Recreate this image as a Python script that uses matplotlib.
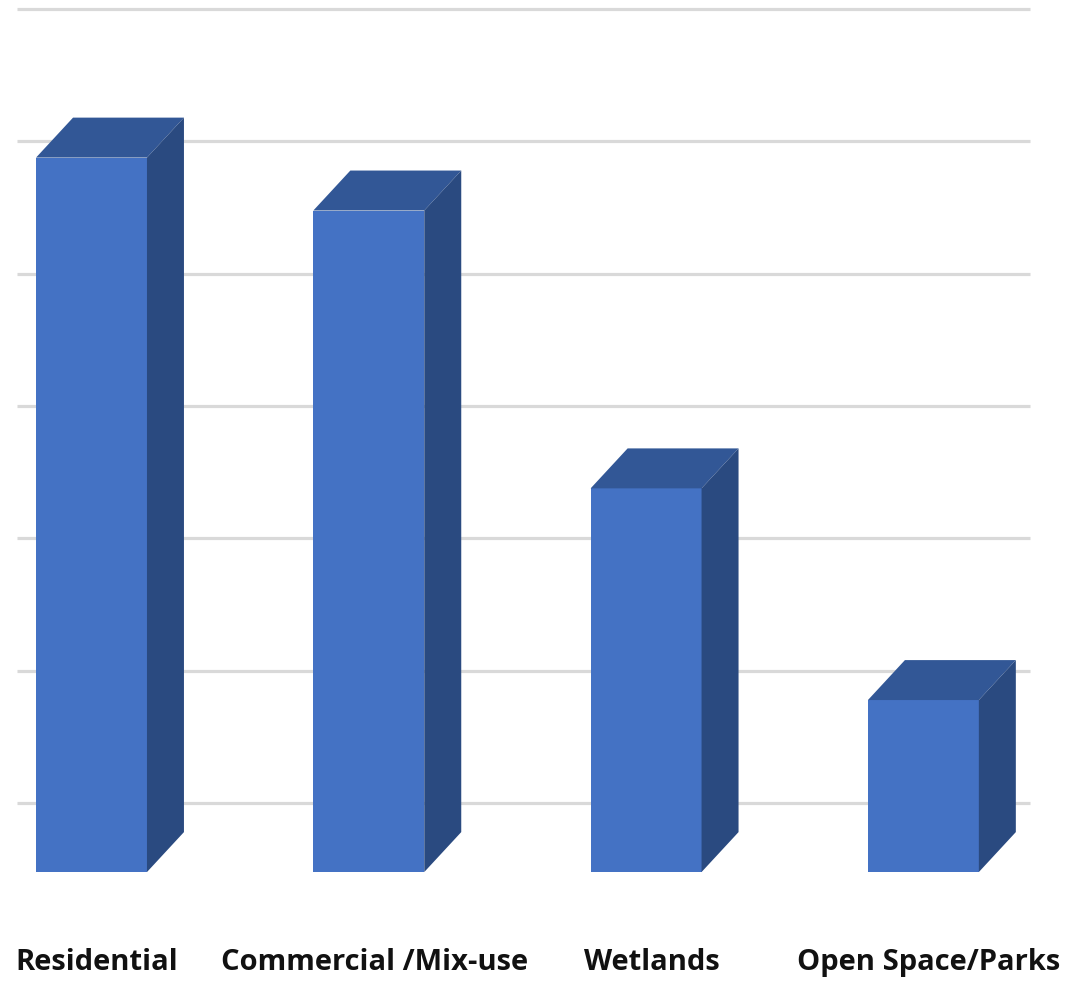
import matplotlib
matplotlib.use("Agg")
import matplotlib.pyplot as plt
from matplotlib.patches import Polygon

# Land-use shares (percent)
categories = ["Residential", "Commercial /Mix-use", "Wetlands", "Open Space/Parks"]
values = [54, 50, 29, 13]
grid_values = [0, 10, 20, 30, 40, 50, 60]

FRONT = "#4472C4"
TOP = "#325796"
SIDE = "#2A4A80"
GRID = "#D9D9D9"

fig = plt.figure(figsize=(10.82, 9.82), dpi=100)
ax = fig.add_axes([0, 0, 1, 1])
ax.set_xlim(-0.330, 3.572)
ax.set_ylim(-8.31, 65.91)
ax.axis("off")

bar_w = 0.40          # front face width (category units)
depth_dx = 0.1334     # oblique depth offset, x
depth_dy = 3.02       # oblique depth offset, y
wall_dy = 5.22        # back wall offset for gridlines
wall_x0, wall_x1 = -0.269, 3.384

# gridlines on the back wall
ax.hlines([g + wall_dy for g in grid_values], wall_x0, wall_x1,
          colors=GRID, linewidth=2.3, zorder=1)

xs = list(range(len(categories)))
ax.bar(xs, values, width=bar_w, color=FRONT, zorder=3, linewidth=0)

for x, v in zip(xs, values):
    x0, x1 = x - bar_w / 2, x + bar_w / 2
    top = [(x0, v), (x1, v), (x1 + depth_dx, v + depth_dy), (x0 + depth_dx, v + depth_dy)]
    side = [(x1, 0), (x1 + depth_dx, depth_dy), (x1 + depth_dx, v + depth_dy), (x1, v)]
    ax.add_patch(Polygon(top, closed=True, facecolor=TOP, edgecolor="none", zorder=3))
    ax.add_patch(Polygon(side, closed=True, facecolor=SIDE, edgecolor="none", zorder=3))

for x, name in zip(xs, categories):
    ax.text(x + 0.02, -6.8, name, ha="center", va="center",
            fontsize=21, fontweight="bold", family=["Open Sans", "DejaVu Sans"],
            color="#111111")

fig.savefig("out.png", dpi=100)
